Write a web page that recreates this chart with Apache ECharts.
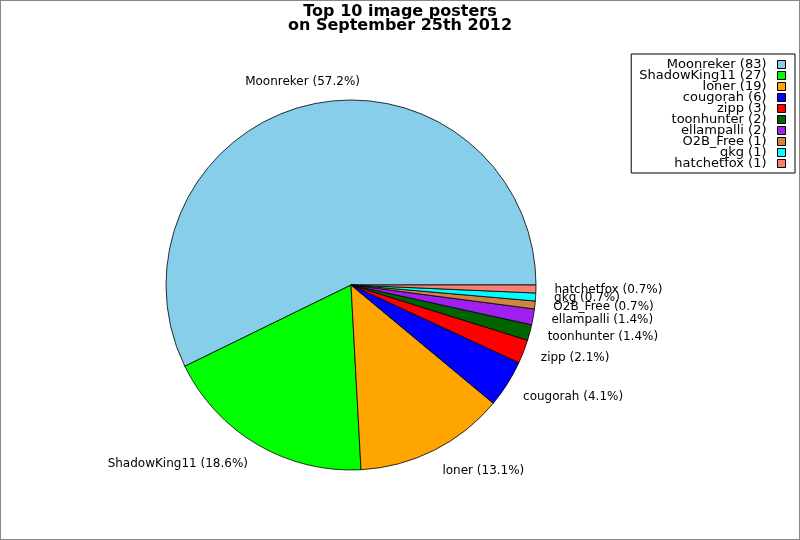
<!DOCTYPE html>
<html>
<head>
<meta charset="utf-8">
<script src="https://cdn.jsdelivr.net/npm/echarts@6/dist/echarts.min.js"></script>
<style>
html,body{margin:0;padding:0;background:#fff;}
#c{width:800px;height:540px;position:relative;}
#frame{position:absolute;left:0;top:0;width:800px;height:540px;box-sizing:border-box;border:1px solid #888;pointer-events:none;}
</style>
</head>
<body>
<div id="c"></div>
<div id="frame"></div>
<script>
const titleText = 'Top 10 image posters\non September 25th 2012';
const names = ['Moonreker','ShadowKing11','loner','cougorah','zipp','toonhunter','ellampalli','O2B_Free','gkg','hatchetfox'];
const counts = [83,27,19,6,3,2,2,1,1,1];
const colors = ['#87CEEB','#00FF00','#FFA500','#0000FF','#FF0000','#006400','#A020F0','#CD853F','#00FFFF','#FA8072'];

const labelTweaks = {
  Moonreker: {label:{distanceToLabelLine:-56}, labelLine:{length:23.5}},
  ShadowKing11: {label:{formatter:' \n{b} ({d}%)', lineHeight:7}},
  loner: {label:{formatter:' \n{b} ({d}%)', lineHeight:8}},
  cougorah: {label:{formatter:' \n{b} ({d}%)', lineHeight:6}}
};

const data = names.map((n,i)=>Object.assign({
  name:n, value:counts[i], itemStyle:{color:colors[i]}
}, labelTweaks[n]||{}));

const chart = echarts.init(document.getElementById('c'));
chart.setOption({
  animation:false,
  backgroundColor:'#fff',
  title:{
    text:titleText, left:'center', top:0,
    textStyle:{fontFamily:'DejaVu Sans', fontSize:16, fontWeight:'bold', color:'#000', lineHeight:14}
  },
  legend:{
    orient:'vertical', right:5, top:54, align:'right',
    padding:[4,9,3,8], itemGap:-2, itemWidth:8, itemHeight:8,
    borderColor:'#000', borderWidth:1, borderRadius:0,
    backgroundColor:'#fff',
    icon:'rect',
    itemStyle:{borderColor:'#000', borderWidth:1},
    formatter:function(n){ return n + ' (' + counts[names.indexOf(n)] + ')'; },
    textStyle:{fontFamily:'DejaVu Sans', fontSize:13, color:'#000', padding:[0,6,0,0]},
    selectedMode:false,
    data:names
  },
  series:[{
    type:'pie',
    center:[351,285], radius:185,
    startAngle:0, clockwise:false,
    avoidLabelOverlap:false,
    labelLayout:{hideOverlap:false},
    percentPrecision:1,
    silent:true,
    emphasis:{disabled:true},
    itemStyle:{borderColor:'#000', borderWidth:0.8},
    label:{
      show:true, position:'outside', formatter:'{b} ({d}%)',
      fontFamily:'DejaVu Sans', fontSize:12, color:'#000',
      distanceToLabelLine:0, alignTo:'none'
    },
    labelLine:{show:false, length:18.5, length2:0},
    data:data
  }]
});
</script>
</body>
</html>
